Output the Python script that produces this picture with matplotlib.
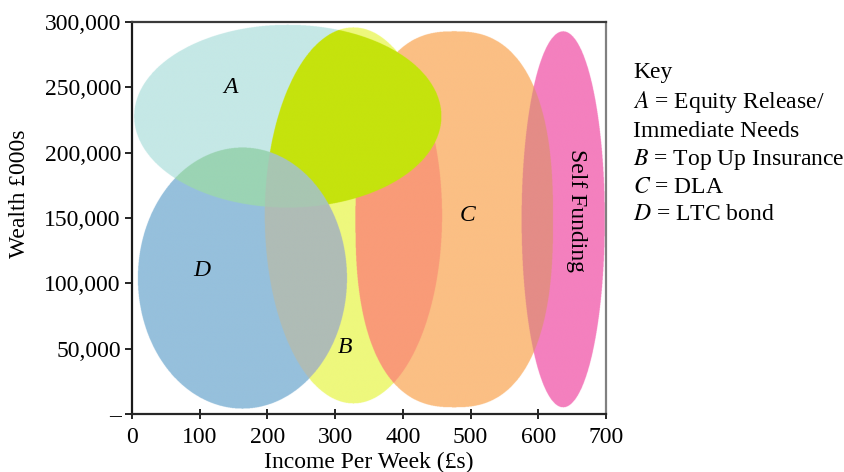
import numpy as np
import matplotlib
matplotlib.use("Agg")
import matplotlib.pyplot as plt
from matplotlib.colors import to_rgb

plt.rcParams['font.family'] = ['Liberation Serif', 'DejaVu Serif']
plt.rcParams['mathtext.fontset'] = 'stix'

# ---- Regions (blob outlines approximated as superellipses, data units) ----
region_names = ["A", "B", "C", "D", "S"]
center_income = [230, 327, 476, 163, 637]
center_wealth = [228000, 152000, 149000, 104000, 149000]
width_income = [454, 262, 292, 309, 123]
height_wealth = [140000, 288000, 288000, 200000, 288000]
shape_exponent = [2.0, 2.0, 2.5, 2.0, 2.0]

# ---- Colours of single regions and overlaps ----
base_colors = {"A": "#c5e8e6", "B": "#eef87d", "C": "#fbbf84",
               "D": "#96c0dc", "S": "#f480be"}
overlap_colors = {
    ("A", "B"): "#c5e30d",
    ("A", "D"): "#9bd4b4",
    ("B", "D"): "#afbcb6",
    ("A", "B", "D"): "#a8c6b2",
    ("B", "C"): "#f99b78",
    ("A", "B", "C"): "#c5e30d",
    ("A", "C"): "#c5e30d",
    ("C", "S"): "#e48c87",
}

# ---- Labels ----
label_text = ["A", "B", "C", "D"]
label_income = [145, 314, 495, 103]
label_wealth = [250000, 51000, 152000, 110000]
self_label = "Self Funding"
self_income = 657
self_wealth = 156000

x_ticks = [0, 100, 200, 300, 400, 500, 600, 700]
y_ticks = [0, 50000, 100000, 150000, 200000, 250000, 300000]
y_tick_labels = ["–", "50,000", "100,000", "150,000", "200,000", "250,000", "300,000"]

key_lines = ["Key", "$A$ = Equity Release/", "Immediate Needs",
             "$B$ = Top Up Insurance", "$C$ = DLA", "$D$ = LTC bond"]

fig = plt.figure(figsize=(8.45, 4.72), dpi=100)
ax = fig.add_axes([132/845, 1-414/472, 474/845, 392/472])

# raster membership grid
gx = np.linspace(0, 700, 1600)
gy = np.linspace(0, 300000, 1200)
X, Y = np.meshgrid(gx, gy)
code = np.zeros(X.shape, dtype=int)
for i, name in enumerate(region_names):
    u = np.abs((X - center_income[i]) / (width_income[i] / 2))
    v = np.abs((Y - center_wealth[i]) / (height_wealth[i] / 2))
    inside = u**shape_exponent[i] + v**shape_exponent[i] <= 1
    code |= inside.astype(int) << i

palette = np.ones((32, 3))
for c in range(1, 32):
    members = tuple(n for i, n in enumerate(region_names) if c & (1 << i))
    if members in overlap_colors:
        palette[c] = to_rgb(overlap_colors[members])
    else:
        palette[c] = to_rgb(base_colors[members[-1]])
img = palette[code]
ax.imshow(img, origin='lower', extent=[0, 700, 0, 300000], aspect='auto',
          interpolation='antialiased', zorder=0)

for t, xv, yv in zip(label_text, label_income, label_wealth):
    ax.text(xv, yv, t, fontsize=17, style='italic', ha='center', va='center')
ax.text(self_income, self_wealth, self_label, fontsize=17, rotation=-90,
        ha='center', va='center')

ax.set_xlim(0, 700)
ax.set_ylim(0, 300000)
ax.set_xticks(x_ticks)
ax.set_xticklabels([str(v) for v in x_ticks], fontsize=17)
ax.set_yticks(y_ticks)
ax.set_yticklabels(y_tick_labels, fontsize=17)
ax.tick_params(axis='x', direction='inout', length=7, width=1.2, pad=6)
ax.tick_params(axis='y', direction='out', length=5, width=1.2, pad=3)

ax.spines['left'].set_color('#1a1a1a')
ax.spines['bottom'].set_color('#262626')
ax.spines['top'].set_color('#3a3a3a')
ax.spines['right'].set_color('#808080')
for s in ax.spines.values():
    s.set_linewidth(1.6)

ax.set_xlabel("Income Per Week (£s)", fontsize=17)
ax.xaxis.set_label_coords(0.5, (414-462)/392)
ax.xaxis.label.set_va('center')
ax.set_ylabel("Wealth £000s", fontsize=17)
ax.yaxis.set_label_coords((20-132)/474, (414-194)/392)
ax.yaxis.label.set_va('center')

key_baselines = [78, 108, 137, 165, 193, 220]
for line, b in zip(key_lines, key_baselines):
    fig.text(633/845, 1 - b/472, line, fontsize=17, ha='left', va='baseline')

fig.savefig("out.png", dpi=100)
